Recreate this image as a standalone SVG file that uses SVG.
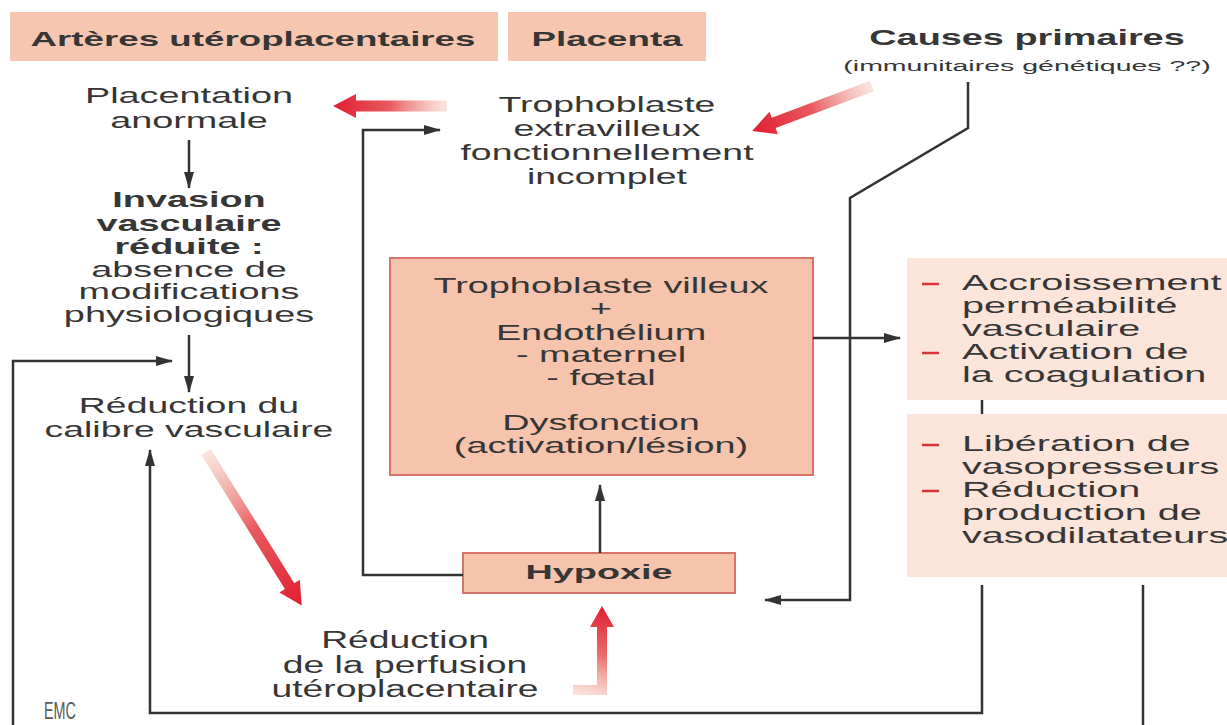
<svg xmlns="http://www.w3.org/2000/svg" width="1227" height="725" viewBox="0 0 1227 725">
<style>
.t{font-family:"Liberation Sans",Arial,Helvetica,sans-serif;font-size:22px;fill:#363636;text-anchor:middle}
.b{font-weight:bold}
.s{text-anchor:start}
.f21{font-size:21px}
.f23{font-size:23px}
.f15{font-size:15px}
.logo{font-size:24px;fill:#5a5a5a}
.hdr{fill:#f6c6b1}
.box{fill:#f6c3ad;stroke:#d8736c;stroke-width:2}
.lt{fill:#fbe5da}
.ln{fill:none;stroke:#333;stroke-width:2.5}
.dash{stroke:#d8323a;stroke-width:2.5}
</style>
<defs>
<marker id="ah" markerWidth="17" markerHeight="12" refX="16" refY="6" orient="auto" markerUnits="userSpaceOnUse">
<path d="M0,1 L17,6 L0,11 Z" fill="#333"/>
</marker>
<linearGradient id="rg" x1="0" y1="0" x2="1" y2="0">
<stop offset="0" stop-color="#f2b3a4" stop-opacity="0.35"/>
<stop offset="0.5" stop-color="#e85a60"/>
<stop offset="1" stop-color="#e01e30"/>
</linearGradient>
<linearGradient id="rgL" gradientUnits="userSpaceOnUse" x1="575" y1="695" x2="602" y2="606">
<stop offset="0" stop-color="#f2b3a4" stop-opacity="0.35"/>
<stop offset="0.5" stop-color="#ea6a6a"/>
<stop offset="1" stop-color="#e01e30"/>
</linearGradient>
</defs>
<rect width="1227" height="725" fill="#ffffff"/>

<g id="header-arteres">
<rect class="hdr" x="10" y="12" width="488" height="49"/>
<text class="t b f21" transform="matrix(1.75 0 0 1 253 46)">Artères utéroplacentaires</text>
</g>
<g id="header-placenta">
<rect class="hdr" x="508" y="12" width="198" height="49"/>
<text class="t b f21" transform="matrix(1.75 0 0 1 607 46)">Placenta</text>
</g>
<g id="causes-primaires">
<text class="t b" transform="matrix(1.72 0 0 1 1027 45)">Causes primaires</text>
<text class="t f15" transform="matrix(1.9 0 0 1 1027 71)">(immunitaires génétiques ??)</text>
</g>
<g id="placentation">
<text class="t" transform="matrix(1.72 0 0 1 189 103)"><tspan x="0">Placentation</tspan><tspan x="0" dy="25">anormale</tspan></text>
</g>
<g id="trophoblaste-extravilleux">
<text class="t" transform="matrix(1.7 0 0 1 607 112)"><tspan x="0">Trophoblaste</tspan><tspan x="0" dy="24.5">extravilleux</tspan><tspan x="0" dy="24">fonctionnellement</tspan><tspan x="0" dy="24">incomplet</tspan></text>
</g>
<g id="invasion">
<text class="t b" transform="matrix(1.72 0 0 1 189 207)"><tspan x="0">Invasion</tspan><tspan x="0" dy="24">vasculaire</tspan><tspan x="0" dy="23">réduite :</tspan></text>
<text class="t" transform="matrix(1.72 0 0 1 189 277)"><tspan x="0">absence de</tspan><tspan x="0" dy="22.5">modifications</tspan><tspan x="0" dy="22.5">physiologiques</tspan></text>
</g>
<g id="reduction-calibre">
<text class="t" transform="matrix(1.7 0 0 1 189 413)"><tspan x="0">Réduction du</tspan><tspan x="0" dy="24">calibre vasculaire</tspan></text>
</g>
<g id="dysfonction">
<rect class="box" x="390" y="258" width="423" height="217"/>
<text class="t" transform="matrix(1.72 0 0 1 601 293)"><tspan x="0">Trophoblaste villeux</tspan><tspan x="0" dy="23">+</tspan><tspan x="0" dy="24">Endothélium</tspan><tspan x="0" dy="22.5">- maternel</tspan><tspan x="0" dy="23">- fœtal</tspan><tspan x="0" dy="45">Dysfonction</tspan><tspan x="0" dy="23">(activation/lésion)</tspan></text>
</g>
<g id="hypoxie">
<rect class="box" x="463" y="553" width="272" height="40"/>
<text class="t b f21" transform="matrix(1.8 0 0 1 599 579)">Hypoxie</text>
</g>
<g id="reduction-perfusion">
<text class="t f23" transform="matrix(1.62 0 0 1 405 648)"><tspan x="0">Réduction</tspan><tspan x="0" dy="25">de la perfusion</tspan><tspan x="0" dy="24">utéroplacentaire</tspan></text>
</g>
<g id="effets-1">
<rect class="lt" x="907" y="258" width="320" height="142"/>
<line class="dash" x1="922" y1="284" x2="939" y2="284"/>
<line class="dash" x1="922" y1="353" x2="939" y2="353"/>
<text class="t s" transform="matrix(1.8 0 0 1 962 290)"><tspan x="0">Accroissement</tspan><tspan x="0" dy="23">perméabilité</tspan><tspan x="0" dy="23">vasculaire</tspan><tspan x="0" dy="23">Activation de</tspan><tspan x="0" dy="23">la coagulation</tspan></text>
</g>
<g id="effets-2">
<rect class="lt" x="907" y="414" width="320" height="163"/>
<line class="dash" x1="922" y1="445" x2="939" y2="445"/>
<line class="dash" x1="922" y1="491" x2="939" y2="491"/>
<text class="t s" transform="matrix(1.8 0 0 1 962 451)"><tspan x="0">Libération de</tspan><tspan x="0" dy="23">vasopresseurs</tspan><tspan x="0" dy="23">Réduction</tspan><tspan x="0" dy="23">production de</tspan><tspan x="0" dy="23">vasodilatateurs</tspan></text>
</g>
<g id="logo">
<text class="t logo" transform="matrix(0.6 0 0 1 60 719)">EMC</text>
</g>

<g id="connectors">
<path class="ln" d="M189,140 V188" marker-end="url(#ah)"/>
<path class="ln" d="M189,335 V392" marker-end="url(#ah)"/>
<path class="ln" d="M13,725 V361 H172" marker-end="url(#ah)"/>
<path class="ln" d="M982,585 V713 H150 V450" marker-end="url(#ah)"/>
<path class="ln" d="M1143,585 V725"/>
<path class="ln" d="M463,575 H363 V130 H440" marker-end="url(#ah)"/>
<path class="ln" d="M600,553 V485" marker-end="url(#ah)"/>
<path class="ln" d="M813,338 H900" marker-end="url(#ah)"/>
<path class="ln" d="M968,82 V128 L850,198 V600 H765" marker-end="url(#ah)"/>
<path class="ln" d="M982,400 V414"/>
<path d="M0,-5.5 L91,-5.5 L91,-12 L114,0 L91,12 L91,5.5 L0,5.5 Z" fill="url(#rg)" transform="translate(447,106) rotate(180)"/>
<path d="M0,-5.5 L105,-5.5 L105,-12 L128,0 L105,12 L105,5.5 L0,5.5 Z" fill="url(#rg)" transform="translate(872,86) rotate(159.4)"/>
<path d="M0,-5.5 L158,-5.5 L158,-12 L181,0 L158,12 L158,5.5 L0,5.5 Z" fill="url(#rg)" transform="translate(206,452) rotate(58.06)"/>
<path d="M573,685 L597,685 L597,627 L590,627 L602,606 L614,627 L607,627 L607,695 L573,695 Z" fill="url(#rgL)"/>
</g>
</svg>
